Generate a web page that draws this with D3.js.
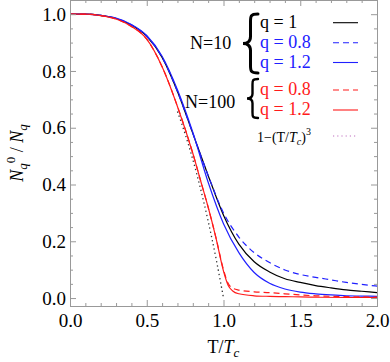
<!DOCTYPE html>
<html>
<head>
<meta charset="utf-8">
<script src="https://cdn.jsdelivr.net/npm/d3@7"></script>
<style>
  body { margin: 0; background: #fff; }
  svg text { font-family: "Liberation Serif", "DejaVu Serif", serif; }
</style>
</head>
<body>
<svg id="chart" width="390" height="362"></svg>
<script>
// T/Tc grid of the N=10 curves
var tN10 = [0, 0.1, 0.2, 0.3, 0.4, 0.5, 0.6, 0.7, 0.8, 0.9, 1.0,
            1.1, 1.2, 1.3, 1.4, 1.5, 1.6, 1.7, 1.8, 1.9, 2.0];
var n10q1   = [1.000, 1.000, 0.996, 0.985, 0.962, 0.922, 0.848, 0.728, 0.580, 0.432, 0.292,
               0.190, 0.128, 0.092, 0.068, 0.055, 0.044, 0.036, 0.029, 0.024, 0.019];
var n10q08  = [1.000, 1.000, 0.996, 0.985, 0.962, 0.922, 0.848, 0.728, 0.580, 0.432, 0.300,
               0.215, 0.160, 0.125, 0.099, 0.083, 0.073, 0.064, 0.055, 0.048, 0.042];
var n10q12  = [1.000, 1.000, 0.996, 0.986, 0.964, 0.925, 0.852, 0.734, 0.584, 0.408, 0.262,
               0.160, 0.090, 0.052, 0.032, 0.021, 0.015, 0.011, 0.008, 0.007, 0.006];

// T/Tc grid of the N=100 curves (denser round the knee)
var tN100 = [0, 0.1, 0.2, 0.3, 0.4, 0.5, 0.6, 0.7, 0.8, 0.85, 0.9, 0.95, 1.0,
             1.03, 1.06, 1.1, 1.2, 1.3, 1.4, 1.5, 1.6, 1.8, 2.0];
var n100q08 = [1.000, 1.000, 0.995, 0.983, 0.957, 0.912, 0.815, 0.675, 0.510, 0.415, 0.320, 0.215, 0.100,
               0.052, 0.035, 0.028, 0.022, 0.019, 0.015, 0.011, 0.008, 0.005, 0.003];
var n100q12 = [1.000, 1.000, 0.995, 0.983, 0.957, 0.912, 0.815, 0.675, 0.510, 0.415, 0.320, 0.214, 0.095,
               0.045, 0.025, 0.015, 0.008, 0.006, 0.005, 0.004, 0.003, 0.002, 0.002];

// 1-(T/Tc)^3, the visible dotted part
var tCube = [0.7, 0.75, 0.8, 0.85, 0.9, 0.95, 1.0];
var cube  = [0.657, 0.578, 0.488, 0.386, 0.271, 0.143, 0.000];

var xTicks = [0, 0.5, 1.0, 1.5, 2.0];
var yTicks = [0, 0.2, 0.4, 0.6, 0.8, 1.0];

var series = [
  {t: tN10,  v: n10q1,   color: "#000000", dash: null},
  {t: tN10,  v: n10q08,  color: "#2020ff", dash: "6,4"},
  {t: tN10,  v: n10q12,  color: "#2020ff", dash: null},
  {t: tN100, v: n100q08, color: "#ff1a1a", dash: "6,4"},
  {t: tN100, v: n100q12, color: "#ff1a1a", dash: null}
];

var svg = d3.select("#chart");
var mLeft = 70, mRight = 377, mTop = 0, mBottom = 306;

var x = d3.scaleLinear().domain([0, 2]).range([mLeft, mRight]);
var y = d3.scaleLinear().domain([-0.028, 1.05]).range([mBottom, mTop]);

// curves
var line = d3.line()
  .x(function(d) { return x(d[0]); })
  .y(function(d) { return y(d[1]); })
  .curve(d3.curveMonotoneX);

var plot = svg.append("g");
series.forEach(function(s) {
  plot.append("path")
    .datum(s.t.map(function(t, i) { return [t, s.v[i]]; }))
    .attr("d", line)
    .attr("fill", "none")
    .attr("stroke", s.color)
    .attr("stroke-width", 1.2)
    .attr("stroke-dasharray", s.dash);
});
plot.append("path")
  .datum(tCube.map(function(t, i) { return [t, cube[i]]; }))
  .attr("d", line)
  .attr("fill", "none")
  .attr("stroke", "#333")
  .attr("stroke-width", 1.3)
  .attr("stroke-dasharray", "1.3,3");

// frame with inward ticks on every side
var frameColor = "#999";
function frameAxis(axisFn, scale, major, minorStep, tx, ty, labels) {
  var d = scale.domain();
  var minor = d3.range(Math.ceil(d[0] / minorStep) * minorStep, d[1] + 1e-9, minorStep)
    .filter(function(v) { return major.every(function(m) { return Math.abs(m - v) > 1e-6; }); });
  var gMin = svg.append("g").attr("transform", "translate(" + tx + "," + ty + ")")
    .call(axisFn(scale).tickValues(minor).tickSize(-3).tickFormat(""));
  var gMaj = svg.append("g").attr("transform", "translate(" + tx + "," + ty + ")")
    .call(axisFn(scale).tickValues(major).tickSize(-6).tickPadding(labels ? 12 : 0)
      .tickFormat(labels ? d3.format(".1f") : ""));
  [gMin, gMaj].forEach(function(g) {
    g.select(".domain").attr("stroke", frameColor);
    g.selectAll(".tick line").attr("stroke", frameColor);
    g.selectAll("text").attr("fill", "#000").attr("font-size", 19)
      .attr("font-family", "Liberation Serif");
  });
  return gMaj;
}
var gx = frameAxis(d3.axisBottom, x, xTicks, 0.1, 0, mBottom, true);
gx.selectAll("text").attr("dy", "0.71em").attr("y", 8);
frameAxis(d3.axisTop, x, xTicks, 0.1, 0, mTop, false);
var gy = frameAxis(d3.axisLeft, y, yTicks, 0.05, mLeft, 0, true);
gy.selectAll("text").attr("x", -4);
frameAxis(d3.axisRight, y, yTicks, 0.05, mRight, 0, false);

// axis titles
var xt = svg.append("text").attr("x", (mLeft + mRight) / 2).attr("y", 353)
  .attr("text-anchor", "middle").attr("font-size", 18);
xt.append("tspan").text("T/");
xt.append("tspan").attr("font-style", "italic").text("T");
xt.append("tspan").attr("font-style", "italic").attr("font-size", 13).attr("dy", 4).text("c");

var yt = svg.append("text")
  .attr("transform", "translate(23," + ((mTop + mBottom) / 2) + ") rotate(-90)")
  .attr("text-anchor", "middle").attr("font-size", 18);
yt.append("tspan").attr("font-style", "italic").text("N");
yt.append("tspan").attr("font-style", "italic").attr("font-size", 13).attr("dy", 4).text("q");
yt.append("tspan").attr("font-size", 13).attr("dy", -12).text("0");
yt.append("tspan").attr("dy", 8).text(" / ");
yt.append("tspan").attr("font-style", "italic").text("N");
yt.append("tspan").attr("font-style", "italic").attr("font-size", 13).attr("dy", 4).text("q");

// legend
var legLabels = ["q = 1", "q = 0.8", "q = 1.2", "q = 0.8", "q = 1.2"];
var legY = [22.7, 42.7, 62.5, 90, 110];
var leg = svg.append("g");
series.forEach(function(s, i) {
  leg.append("text").attr("x", 260).attr("y", legY[i] + 5)
    .attr("font-size", 18).attr("fill", s.color).text(legLabels[i]);
  leg.append("line").attr("x1", 333).attr("x2", 358)
    .attr("y1", legY[i]).attr("y2", legY[i])
    .attr("stroke", s.color).attr("stroke-width", 1.1)
    .attr("stroke-dasharray", s.dash);
});
leg.append("text").attr("x", 190).attr("y", 48.5).attr("font-size", 18).text("N=10");
leg.append("text").attr("x", 185).attr("y", 107.5).attr("font-size", 18).text("N=100");

function brace(x0, y0, y1, w) {
  var h = y1 - y0, m = (y0 + y1) / 2, c = x0 + w * 0.5;
  return "M" + (x0 + w) + "," + y0 +
    " C" + (x0 + w * 0.45) + "," + y0 + " " + c + "," + (y0 + h * 0.04) + " " + c + "," + (y0 + h * 0.18) +
    " L" + c + "," + (m - h * 0.12) +
    " C" + c + "," + (m - h * 0.03) + " " + (x0 + w * 0.25) + "," + m + " " + x0 + "," + m +
    " C" + (x0 + w * 0.25) + "," + m + " " + c + "," + (m + h * 0.03) + " " + c + "," + (m + h * 0.12) +
    " L" + c + "," + (y1 - h * 0.18) +
    " C" + c + "," + (y1 - h * 0.04) + " " + (x0 + w * 0.45) + "," + y1 + " " + (x0 + w) + "," + y1;
}
leg.append("path").attr("d", brace(243, 14, 73, 15))
  .attr("fill", "none").attr("stroke", "#000").attr("stroke-width", 3).attr("stroke-linecap", "round");
leg.append("path").attr("d", brace(247, 79, 118, 11))
  .attr("fill", "none").attr("stroke", "#000").attr("stroke-width", 2.4).attr("stroke-linecap", "round");

var ft = leg.append("text").attr("x", 257).attr("y", 141.5).attr("font-size", 14);
ft.append("tspan").text("1\u2212(T/");
ft.append("tspan").attr("font-style", "italic").text("T");
ft.append("tspan").attr("font-style", "italic").attr("font-size", 10).attr("dy", 3).text("c");
ft.append("tspan").attr("dy", -3).text(")");
ft.append("tspan").attr("font-size", 10).attr("dy", -7).text("3");
leg.append("line").attr("x1", 333).attr("x2", 356).attr("y1", 136).attr("y2", 136)
  .attr("stroke", "#c070c0").attr("stroke-width", 1.2).attr("stroke-dasharray", "1.2,3");
</script>
</body>
</html>
